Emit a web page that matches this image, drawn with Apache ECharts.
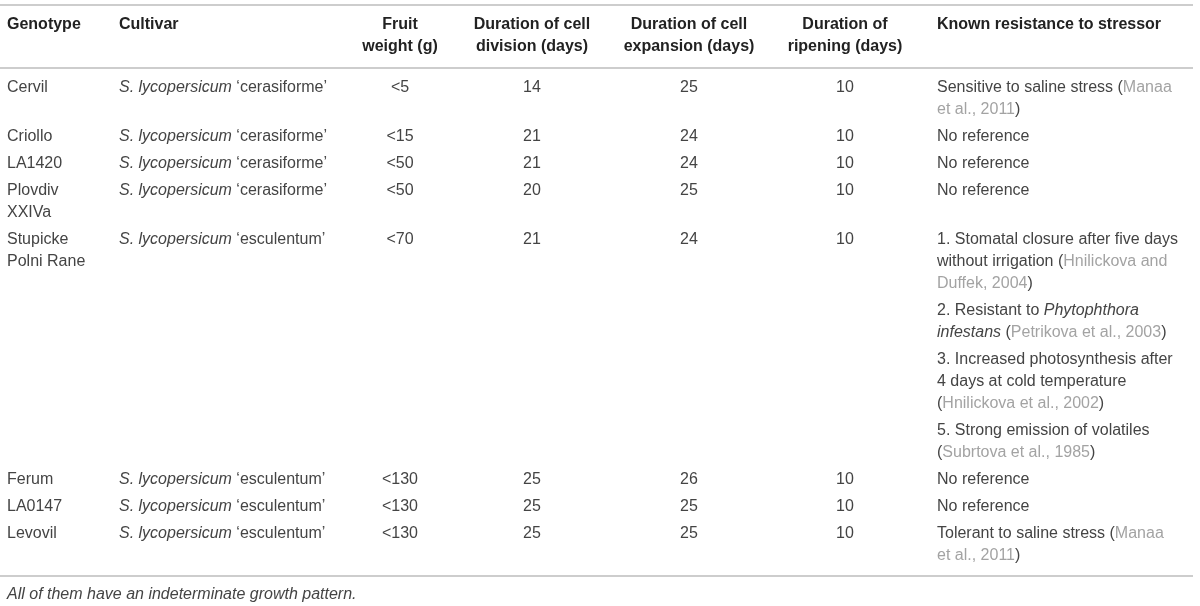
<!DOCTYPE html>
<html><head><meta charset="utf-8">
<script src="https://cdn.jsdelivr.net/npm/echarts@6/dist/echarts.min.js"></script>
<style>html,body{margin:0;padding:0;background:#fff}#c{width:1200px;height:606px}</style>
</head><body><div id="c"></div>
<script>
// ---------- DATA ----------
const headers = [
  ["Genotype"],
  ["Cultivar"],
  ["Fruit", "weight (g)"],
  ["Duration of cell", "division (days)"],
  ["Duration of cell", "expansion (days)"],
  ["Duration of", "ripening (days)"],
  ["Known resistance to stressor"]
];
const genotypes = [["Cervil"], ["Criollo"], ["LA1420"], ["Plovdiv", "XXIVa"], ["Stupicke", "Polni Rane"], ["Ferum"], ["LA0147"], ["Levovil"]];
const species = "S. lycopersicum";
const cultivars = ["cerasiforme", "cerasiforme", "cerasiforme", "cerasiforme", "esculentum", "esculentum", "esculentum", "esculentum"];
const fruitWeight = ["<5", "<15", "<50", "<50", "<70", "<130", "<130", "<130"];
const cellDivision = [14, 21, 21, 20, 21, 25, 25, 25];
const cellExpansion = [25, 24, 24, 25, 24, 26, 25, 25];
const ripening = [10, 10, 10, 10, 10, 10, 10, 10];
// each row: list of paragraphs, each paragraph: list of lines (rich text markup)
const resistance = [
  [["Sensitive to saline stress ({c|Manaa}", "{c|et al., 2011})"]],
  [["No reference"]],
  [["No reference"]],
  [["No reference"]],
  [
    ["1. Stomatal closure after five days", "without irrigation ({c|Hnilickova and}", "{c|Duffek, 2004})"],
    ["2. Resistant to {i|Phytophthora}", "{i|infestans} ({c|Petrikova et al., 2003})"],
    ["3. Increased photosynthesis after", "4 days at cold temperature", "({c|Hnilickova et al., 2002})"],
    ["5. Strong emission of volatiles", "({c|Subrtova et al., 1985})"]
  ],
  [["No reference"]],
  [["No reference"]],
  [["Tolerant to saline stress ({c|Manaa}", "{c|et al., 2011})"]]
];
const footnote = "All of them have an indeterminate growth pattern.";

// ---------- LAYOUT / STYLE ----------
const colX = [7, 119, 400, 532, 689, 845, 937];
const colAlign = ['left', 'left', 'center', 'center', 'center', 'center', 'left'];
const LH = 22, PARA = 27;
const headY = 25, firstY = 88;
const FONT = 'Liberation Sans, Arial, sans-serif';
const FS = 16;
const bodyColor = '#444444', citeColor = '#a3a3a3', headColor = '#222222';
const rich = {
  i: {fontStyle: 'italic', fontSize: FS, fontFamily: FONT, fill: bodyColor, color: bodyColor},
  c: {fontSize: FS, fontFamily: FONT, fill: citeColor, color: citeColor}
};

// build cell items
const items = [];
headers.forEach((h, c) => h.forEach((t, k) => items.push({x: colX[c], y: headY + k * LH, text: t, align: colAlign[c], bold: true})));
let y = firstY;
genotypes.forEach((g, r) => {
  g.forEach((t, k) => items.push({x: colX[0], y: y + k * LH, text: t, align: 'left'}));
  items.push({x: colX[1], y: y, text: '{i|' + species + '} \u2018' + cultivars[r] + '\u2019', align: 'left'});
  [fruitWeight[r], cellDivision[r], cellExpansion[r], ripening[r]].forEach((v, c) =>
    items.push({x: colX[2 + c], y: y, text: String(v), align: 'center'}));
  let ry = y;
  resistance[r].forEach(p => {
    p.forEach((t, k) => items.push({x: colX[6], y: ry + k * LH, text: t, align: 'left'}));
    ry += (p.length - 1) * LH + PARA;
  });
  const gy = y + (g.length - 1) * LH + PARA;
  y = Math.max(ry, gy);
});
const lastLine = y - PARA;
const rules = [5, 68, lastLine + 20];
items.push({x: colX[0], y: lastLine + 39, text: '{i|' + footnote + '}', align: 'left'});

const chart = echarts.init(document.getElementById('c'));
chart.setOption({
  animation: false,
  grid: {left: 0, right: 0, top: 0, bottom: 0},
  xAxis: {type: 'value', min: 0, max: 1200, show: false},
  yAxis: {type: 'value', min: 0, max: 606, inverse: true, show: false},
  series: [
    {
      type: 'custom', clip: false, silent: true,
      data: rules.map(v => [0, v]),
      renderItem: (params, api) => {
        const a = api.coord([0, api.value(1)]);
        const b = api.coord([1193, api.value(1)]);
        return {type: 'line', shape: {x1: a[0], y1: a[1], x2: b[0], y2: b[1]},
          style: {stroke: '#bdbdbd', lineWidth: 1.5}};
      }
    },
    {
      type: 'custom', clip: false, silent: true,
      data: items.map(it => [it.x, it.y]),
      renderItem: (params, api) => {
        const it = items[params.dataIndex];
        const p = api.coord([api.value(0), api.value(1)]);
        return {type: 'text', x: p[0], y: p[1],
          style: {text: it.text, align: it.align, verticalAlign: 'middle',
            fontFamily: FONT, fontSize: FS, fontWeight: it.bold ? 'bold' : 'normal',
            fill: it.bold ? headColor : bodyColor, rich: rich}};
      }
    }
  ]
});
</script></body></html>
